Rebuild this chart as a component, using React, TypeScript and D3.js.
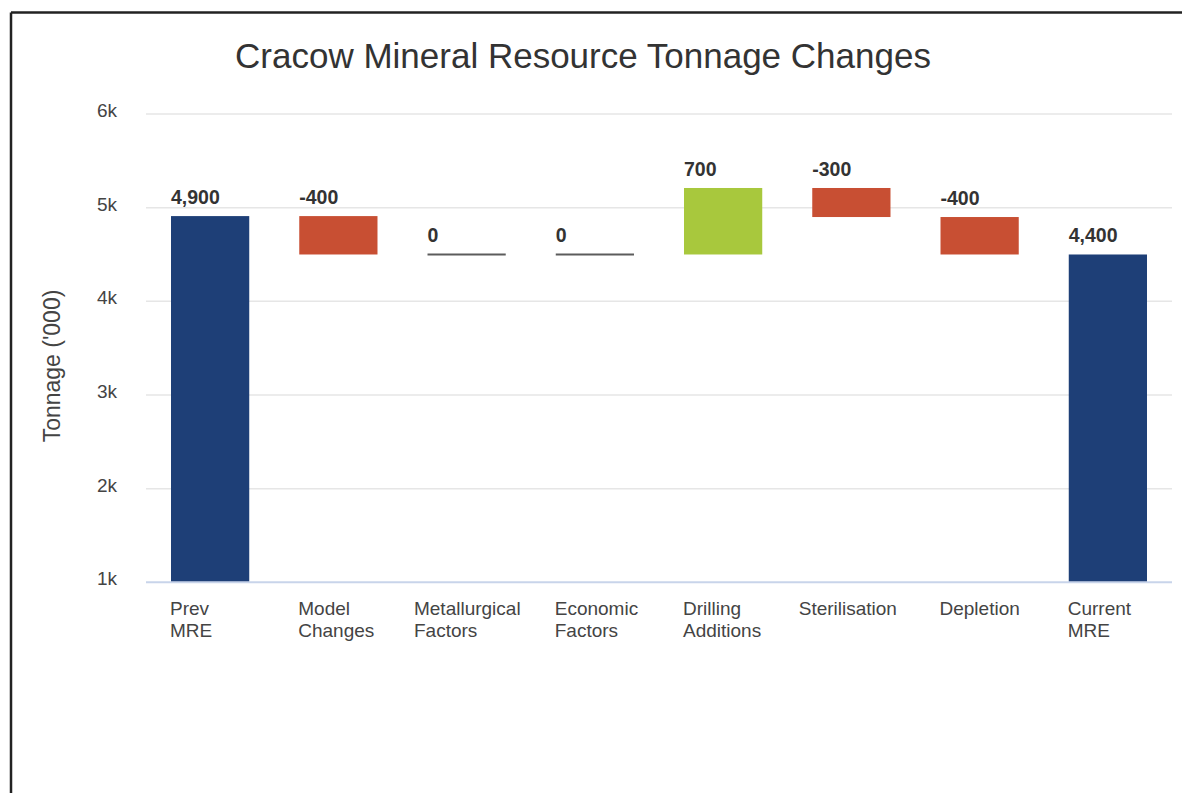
import React from 'react'
import { scaleBand, scaleLinear } from 'd3'

// Waterfall of resource tonnage: totals at both ends, signed changes between.
const categories = [
  'Prev\nMRE',
  'Model\nChanges',
  'Metallurgical\nFactors',
  'Economic\nFactors',
  'Drilling\nAdditions',
  'Sterilisation',
  'Depletion',
  'Current\nMRE',
]
const kinds = ['total', 'delta', 'delta', 'delta', 'delta', 'delta', 'delta', 'total']
const values = [4910, -410, 0, 0, 710, -310, -400, 4500]
const valueLabels = ['4,900', '-400', '0', '0', '700', '-300', '-400', '4,400']
const yTicks = [1000, 2000, 3000, 4000, 5000, 6000]

const COLORS = { total: '#1e3f77', up: '#a8c83d', down: '#c84f33', zero: '#5c5c5c' }
const FONT = '"Liberation Sans", Arial, sans-serif'

export default function App() {
  const width = 1182
  const height = 793
  const m = { top: 114, right: 10, bottom: 793 - 582.3, left: 146 }

  const x = scaleBand<number>()
    .domain(categories.map((_, i) => i))
    .range([m.left, width - m.right])
    .paddingInner(0.39)
    .paddingOuter(0.195)
  const y = scaleLinear().domain([1000, 6000]).range([height - m.bottom, m.top])

  // running totals -> bar start / end
  let run = 0
  const bars = values.map((v, i) => {
    const kind = kinds[i]
    let start: number
    let end: number
    if (kind === 'total') {
      start = 1000
      end = v
      run = v
    } else {
      start = run
      end = run + v
      run = end
    }
    const fill = kind === 'total' ? COLORS.total : v > 0 ? COLORS.up : v < 0 ? COLORS.down : COLORS.zero
    return { i, kind, v, start, end, fill }
  })

  return (
    <>
      <style>{`body{margin:0}`}</style>
      <svg width={width} height={height} viewBox={`0 0 ${width} ${height}`} style={{ display: 'block', fontFamily: FONT }}>
        <rect width={width} height={height} fill="#fff" />
        {/* frame */}
        <line x1={11} x2={width} y1={12.5} y2={12.5} stroke="#222" strokeWidth={2.5} />
        <line x1={11} x2={11} y1={12.5} y2={height} stroke="#222" strokeWidth={2.5} />

        <text x={583} y={68} textAnchor="middle" fontSize={35} fill="#333">
          Cracow Mineral Resource Tonnage Changes
        </text>

        {yTicks.map((t) => (
          <g key={t}>
            {t !== 1000 && (
              <line x1={m.left} x2={width - m.right} y1={y(t)} y2={y(t)} stroke="#e6e6e6" strokeWidth={1.5} />
            )}
            <text x={117} y={y(t) + 3} textAnchor="end" fontSize={19} fill="#444">
              {`${t / 1000}k`}
            </text>
          </g>
        ))}

        <text transform={`translate(60,366) rotate(-90)`} textAnchor="middle" fontSize={23} fill="#444">
          Tonnage ('000)
        </text>

        {bars.map((b) => {
          const x0 = x(b.i) ?? 0
          const bw = x.bandwidth()
          const top = Math.min(y(b.start), y(b.end))
          const bottom = Math.max(y(b.start), y(b.end))
          return (
            <g key={b.i}>
              {b.v === 0 && b.kind === 'delta' ? (
                <line x1={x0} x2={x0 + bw} y1={top} y2={top} stroke={b.fill} strokeWidth={2} />
              ) : (
                <rect x={x0} y={top} width={bw} height={bottom - top} fill={b.fill} />
              )}
              <text x={x0} y={top - 12} fontSize={19.5} fontWeight="bold" fill="#333">
                {valueLabels[b.i]}
              </text>
            </g>
          )
        })}

        <line
          x1={m.left}
          x2={width - m.right}
          y1={y(1000)}
          y2={y(1000)}
          stroke="#c8d4ea"
          strokeWidth={2}
        />

        {categories.map((c, i) => {
          const lines = c.split('\n')
          const chars = Math.max(...lines.map((l) => l.length))
          const x0 = x(i) ?? 0
          const cx = x0 + x.bandwidth() / 2
          // wide labels are pulled left so they stay roughly centred, short ones sit at the bar's edge
          const lx = chars > 9 ? cx - (chars * 8.1) / 2 : x0 - 1
          return (
            <text key={c} x={lx} y={615} fontSize={19} fill="#444">
              {lines.map((l, k) => (
                <tspan key={k} x={lx} dy={k === 0 ? 0 : 22}>
                  {l}
                </tspan>
              ))}
            </text>
          )
        })}
      </svg>
    </>
  )
}
